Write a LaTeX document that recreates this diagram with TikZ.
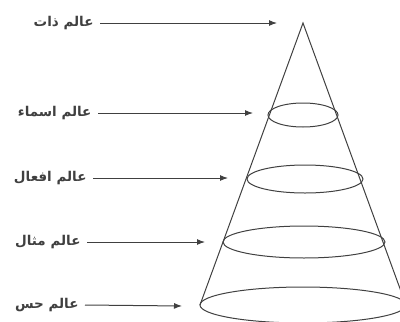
\documentclass[tikz,border=0pt]{standalone}
\usepackage{fontspec}
\usetikzlibrary{arrows.meta}
\newfontfamily\arabicfont[Script=Arabic]{DejaVu Sans}
\TeXXeTstate=1
\begin{document}
\begin{tikzpicture}[x=1pt,y=-1pt,line width=1pt,every node/.style={font=\arabicfont\bfseries\fontsize{13.5}{15}\selectfont,text=black!75}]
\useasboundingbox (0,0) rectangle (400,322);
\tikzset{lbl/.style={anchor=east,inner sep=6pt},arr/.style={-{Latex[length=8pt,width=6pt]},draw=black!75}}
% cone
\coordinate (apex) at (303,23);
\coordinate (bl) at (200,305);
\coordinate (br) at (406,305);
\draw[black!75] (bl)--(apex)--(br);
\draw[black!75] (303,115) ellipse (35 and 12);
\draw[black!75] (305,179) ellipse (58 and 14);
\draw[black!75] (304,242) ellipse (81 and 16);
\draw[black!75] (303,305) ellipse (103 and 18);
% labels
\node[lbl] (zat) at (100,23) {\beginR عالم ذات\endR};
\node[lbl] (asma) at (98,113) {\beginR عالم اسماء\endR};
\node[lbl] (afal) at (93,178) {\beginR عالم افعال\endR};
\node[lbl] (misal) at (87,242) {\beginR عالم مثال\endR};
\node[lbl] (hes) at (85,305) {\beginR عالم حس\endR};
% targets
\coordinate (t1) at (277,23);
\coordinate (t2) at (253,113);
\coordinate (t3) at (228,178);
\coordinate (t4) at (205,242);
\coordinate (t5) at (182,306);
\draw[arr] (zat)--(t1);
\draw[arr] (asma)--(t2);
\draw[arr] (afal)--(t3);
\draw[arr] (misal)--(t4);
\draw[arr] (hes.east)--(t5);
\end{tikzpicture}
\end{document}
